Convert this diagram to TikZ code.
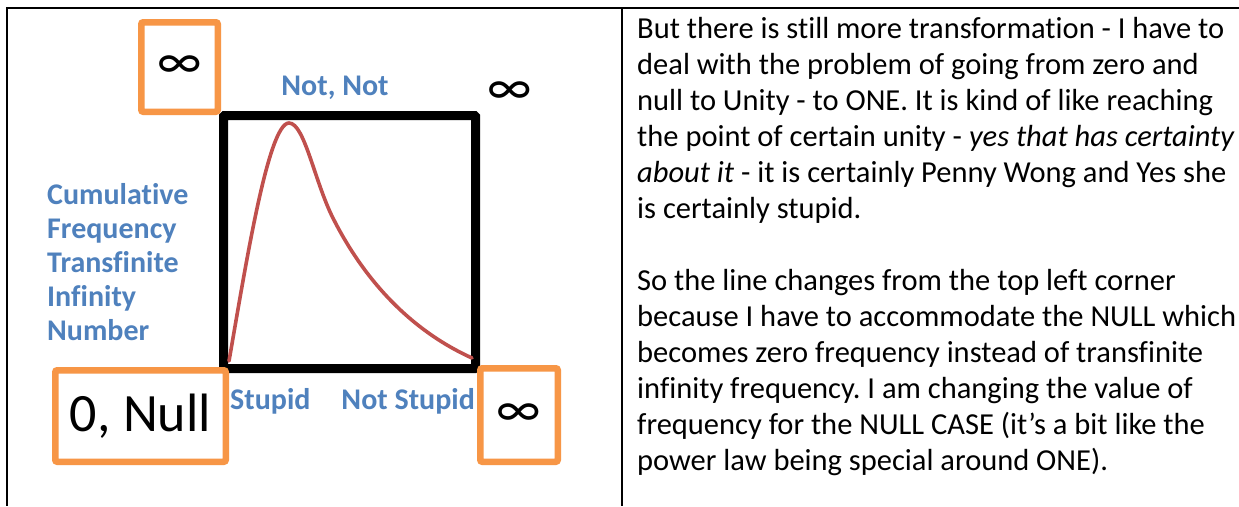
\documentclass[tikz,border=0pt]{standalone}
\usepackage{fontspec}
\setmainfont{Carlito}[Ligatures=NoCommon]
\frenchspacing
\definecolor{lblue}{RGB}{79,129,189}
\definecolor{borange}{RGB}{247,150,70}
\definecolor{cred}{RGB}{192,80,77}
\begin{document}
\begin{tikzpicture}[x=1pt,y=-1pt,
  rule/.style={line width=1.8pt,black},
  obox/.style={draw=borange,line width=6.5pt,rounded corners=2pt,inner sep=0pt},
  infsym/.style={font=\fontsize{52}{52}\selectfont,inner sep=0pt},
  lbl/.style={text=lblue,font=\bfseries\fontsize{30}{34}\selectfont,inner sep=0pt},
  body/.style={font=\fontsize{30.5}{36}\selectfont,align=left,anchor=north west,inner sep=0pt}]
\useasboundingbox[fill=white] (0,0) rectangle (1239,506);
% table rules
\coordinate (tl0) at (7,8);
\coordinate (tr0) at (1239,8);
\coordinate (bl0) at (7,506);
\coordinate (tm0) at (622,8);
\coordinate (bm0) at (622,506);
\draw[rule] (tr0) -- (tl0) -- (bl0);
\draw[rule] (tm0) -- (bm0);
% square
\node[draw,line width=9pt,rounded corners=1pt,minimum width=252pt,minimum height=253pt,inner sep=0pt] (sq) at (349.5,242) {};
% curve
\draw[cred,line width=3.6pt,line cap=round]
  (229,361) .. controls (245,270) and (268,123) .. (289,123)
  .. controls (305,123) and (315,185) .. (335,222)
  .. controls (365,280) and (410,330) .. (472,358);
% orange boxes
\node[obox,minimum width=76.5pt,minimum height=89.5pt] (bxtl) at (179.5,67) {\fontsize{52}{52}\selectfont ∞};
\node[obox,minimum width=170.5pt,minimum height=91.5pt] (bxnull) at (140.5,416) {\fontsize{54}{54}\selectfont 0, Null};
\node[obox,minimum width=77.5pt,minimum height=93.5pt] (bxbr) at (519,415) {\fontsize{52}{52}\selectfont ∞};
% labels
\node[infsym] (inftr) at (510,93) {∞};
\node[lbl,anchor=base] (notnot) at (335,95) {Not, Not};
\node[lbl,align=left,anchor=north west] (cum) at (47,180.2) {\strut Cumulative\\Frequency\\Transfinite\\Infinity\\Number};
\node[lbl,anchor=base west] (stu) at (230,409) {Stupid};
\node[lbl,anchor=base east] (nstu) at (475,409) {Not Stupid};
% text
\node[body] (p1) at (637,12.8) {\strut But there is still more transformation - I have to\\
deal with the problem of going from zero and\\
null to Unity - to ONE. It is kind of like reaching\\
the point of certain unity - \textit{yes that has certainty}\\
\textit{about it} - it is certainly Penny Wong and Yes she\\
is certainly stupid.};
\node[body] (p2) at (637,264.8) {\strut So the line changes from the top left corner\\
because I have to accommodate the NULL which\\
becomes zero frequency instead of transfinite\\
infinity frequency. I am changing the value of\\
frequency for the NULL CASE (it’s a bit like the\\
power law being special around ONE).};
\end{tikzpicture}
\end{document}
